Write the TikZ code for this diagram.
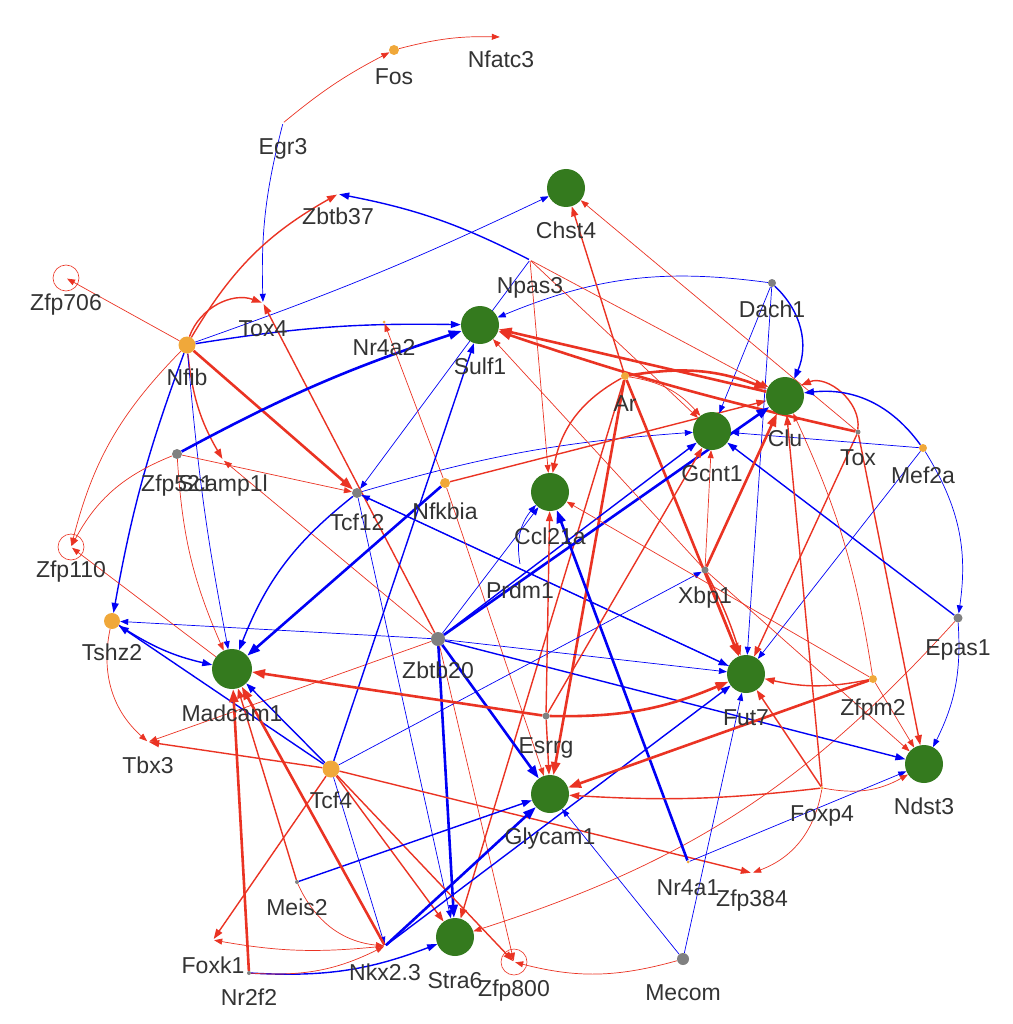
\documentclass[tikz,border=0pt]{standalone}
\usepackage{fontspec}
\setmainfont{Liberation Sans}
\usetikzlibrary{arrows.meta}
\definecolor{redc}{RGB}{234,51,35}
\definecolor{bluec}{RGB}{0,0,245}
\definecolor{greenc}{RGB}{52,122,30}
\definecolor{orangec}{RGB}{240,168,58}
\definecolor{grayc}{RGB}{128,128,128}
\definecolor{txtc}{RGB}{51,51,51}
\pgfdeclarelayer{edges}
\pgfsetlayers{edges,main}
\newcommand{\nd}[6]{\node[#1] (#2) at (#3,#4) {}; \node[lbl] (#2-l) at (#3,{#4+#5}) {#6};}
\begin{document}
\begin{tikzpicture}[x=1pt,y=-1pt,
 gnode/.style={circle,fill=greenc,inner sep=0pt,minimum size=38pt},
 onode/.style={circle,fill=orangec,inner sep=0pt,minimum size=#1},
 ynode/.style={circle,fill=grayc,inner sep=0pt,minimum size=#1},
 hnode/.style={circle,inner sep=0pt,minimum size=2pt},
 lbl/.style={anchor=base,font=\fontsize{23}{27}\selectfont,text=txtc,inner sep=0pt},
 rt/.style={draw=redc,line width=0.7pt,-{Triangle[length=8pt,width=6pt]}},
 rm/.style={draw=redc,line width=1.4pt,-{Triangle[length=10pt,width=7pt]}},
 rk/.style={draw=redc,line width=2.6pt,-{Triangle[length=13pt,width=9pt]}},
 bt/.style={draw=bluec,line width=0.7pt,-{Triangle[length=8pt,width=6pt]}},
 bm/.style={draw=bluec,line width=1.4pt,-{Triangle[length=10pt,width=7pt]}},
 bk/.style={draw=bluec,line width=2.6pt,-{Triangle[length=13pt,width=9pt]}},
 bl/.style={bend left=#1},
 br/.style={bend right=#1},
 loopc/.style={draw=redc,line width=0.6pt}
]
\useasboundingbox (0,0) rectangle (1012,1024);
\nd{onode=10pt}{Fos}{394}{50}{35}{Fos}
\nd{hnode}{Nfatc3}{501}{37}{31}{Nfatc3}
\nd{hnode}{Egr3}{283}{123}{32}{Egr3}
\nd{hnode}{Zbtb37}{338}{194}{31}{Zbtb37}
\nd{hnode}{Zfp706}{66}{278}{32}{Zfp706}
\nd{hnode}{Tox4}{263}{303}{33}{Tox4}
\nd{onode=17pt}{Nfib}{187}{345}{40}{Nfib}
\nd{onode=3pt}{Nr4a2}{384}{322}{33}{Nr4a2}
\nd{gnode}{Sulf1}{480}{325}{49}{Sulf1}
\nd{gnode}{Chst4}{566}{188}{51}{Chst4}
\nd{hnode}{Npas3}{530}{260}{33}{Npas3}
\nd{ynode=8pt}{Dach1}{772}{283}{34}{Dach1}
\nd{onode=8pt}{Ar}{625}{376}{35}{Ar}
\nd{gnode}{Clu}{785}{396}{50}{Clu}
\nd{gnode}{Gcnt1}{712}{431}{50}{Gcnt1}
\nd{ynode=5pt}{Tox}{858}{432}{33}{Tox}
\nd{onode=8pt}{Mef2a}{923}{448}{35}{Mef2a}
\nd{ynode=10pt}{Zfp521}{177}{454}{37}{Zfp521}
\nd{hnode}{Scamp1l}{223}{460}{31}{Scamp1l}
\nd{ynode=10pt}{Tcf12}{357}{493}{37}{Tcf12}
\nd{onode=10pt}{Nfkbia}{445}{483}{36}{Nfkbia}
\nd{gnode}{Ccl21a}{550}{492}{52}{Ccl21a}
\nd{hnode}{Zfp110}{71}{547}{30}{Zfp110}
\nd{ynode=7pt}{Xbp1}{705}{570}{33}{Xbp1}
\nd{hnode}{Prdm1}{520}{565}{33}{Prdm1}
\nd{onode=16pt}{Tshz2}{112}{621}{39}{Tshz2}
\nd{ynode=14pt}{Zbtb20}{438}{639}{39}{Zbtb20}
\nd{ynode=9pt}{Epas1}{958}{618}{37}{Epas1}
\nd{gnode,minimum size=40pt}{Madcam1}{232}{669}{52}{Madcam1}
\nd{gnode}{Fut7}{746}{674}{51}{Fut7}
\nd{onode=8pt}{Zfpm2}{873}{679}{36}{Zfpm2}
\nd{ynode=7pt}{Esrrg}{546}{716}{37}{Esrrg}
\nd{hnode}{Tbx3}{148}{742}{31}{Tbx3}
\nd{onode=17pt}{Tcf4}{331}{769}{39}{Tcf4}
\nd{gnode}{Ndst3}{924}{764}{50}{Ndst3}
\nd{gnode}{Glycam1}{550}{794}{50}{Glycam1}
\nd{onode=3pt}{Foxp4}{822}{788}{33}{Foxp4}
\nd{onode=3pt}{Nr4a1}{688}{862}{33}{Nr4a1}
\nd{hnode}{Zfp384}{752}{873}{33}{Zfp384}
\nd{ynode=4pt}{Meis2}{297}{882}{33}{Meis2}
\nd{gnode}{Stra6}{455}{937}{51}{Stra6}
\nd{hnode}{Foxk1}{213}{940}{33}{Foxk1}
\nd{hnode}{Nkx23}{385}{946}{34}{Nkx2.3}
\nd{hnode}{Zfp800}{514}{962}{34}{Zfp800}
\nd{ynode=12pt}{Mecom}{683}{959}{41}{Mecom}
\nd{ynode=4pt}{Nr2f2}{249}{973}{32}{Nr2f2}
\begin{pgfonlayer}{edges}
\draw[loopc] (Zfp706.center) circle[radius=13pt];
\draw[loopc] (Zfp110.center) circle[radius=13pt];
\draw[loopc] (Zfp800.center) circle[radius=13pt];
% top
\draw[rt] (Fos) to[bl=8] (Nfatc3);
\draw[rt] (Egr3) to[bl=6] (Fos);
\draw[bt] (Egr3) to[br=8] (Tox4);
\draw[rt] (Nfib) -- (Zfp706);
\draw[rm] (Nfib) to[bl=15] (Zbtb37);
\draw[rm] (Nfib) to[bl=45] (Tox4);
\draw[bt] (Nfib) to[br=3] (Chst4);
\draw[bm] (Nfib) to[bl=5] (Sulf1);
\draw[bm] (Npas3) to[br=8] (Zbtb37);
\draw[rm] (Zbtb20) -- (Tox4);
\draw[rk] (Nfib) -- (Tcf12);
\draw[rm] (Nfib) to[br=12] (Scamp1l);
\draw[bm] (Nfib) to[br=5] (Tshz2);
\draw[bt] (Nfib) to[br=3] (Madcam1);
\draw[rt] (Nfib) to[br=15] (Zfp110);
\draw[rt] (Zfp521) to[br=20] (Zfp110);
\draw[rt] (Zfp521) to[br=10] (Madcam1);
\draw[rt] (Zfp521) -- (Tcf12);
\draw[bk] (Zfp521) to[bl=5] (Sulf1);
\draw[rt] (Zbtb20) -- (Scamp1l);
\draw[bt] (Npas3) -- (Tcf12);
\draw[bt] (Tcf12) to[bl=6] (Gcnt1);
\draw[bm] (Tcf12) -- (Fut7);
\draw[bt] (Fut7) -- (Tcf12);
\draw[bm] (Tcf12) to[br=15] (Madcam1);
\draw[bt] (Tcf12) -- (Stra6);
\draw[bk] (Nfkbia) -- (Madcam1);
\draw[rt] (Nfkbia) -- (Nr4a2);
\draw[rt] (Nfkbia) -- (Glycam1);
\draw[rm] (Nfkbia) -- (Clu);
\draw[bt] (Dach1) to[br=15] (Sulf1);
\draw[bm] (Dach1) to[bl=35] (Clu);
\draw[bt] (Dach1) -- (Gcnt1);
\draw[bt] (Dach1) -- (Fut7);
\draw[rt] (Npas3) -- (Clu);
\draw[rt] (Npas3) -- (Gcnt1);
\draw[rt] (Npas3) -- (Ccl21a);
\draw[rm] (Ar) -- (Chst4);
\draw[rk] (Ar) to[bl=15] (Clu);
\draw[rt] (Ar) to[bl=20] (Gcnt1);
\draw[rm] (Ar) to[br=25] (Ccl21a);
\draw[rk] (Ar) -- (Fut7);
\draw[rk] (Ar) -- (Glycam1);
\draw[rm] (Ar) -- (Stra6);
\draw[rk] (Clu) -- (Sulf1);
\draw[rk] (Tox) to[bl=3] (Sulf1);
\draw[rt] (Tox) -- (Chst4);
\draw[rm] (Tox) to[br=60] (Clu);
\draw[rm] (Tox) -- (Ndst3);
\draw[rm] (Tox) -- (Fut7);
\draw[bm] (Mef2a) to[br=30] (Clu);
\draw[bt] (Mef2a) -- (Gcnt1);
\draw[bt] (Mef2a) -- (Fut7);
\draw[bt] (Mef2a) to[bl=20] (Epas1);
\draw[bm] (Epas1) -- (Gcnt1);
\draw[bt] (Epas1) to[bl=15] (Ndst3);
\draw[rt] (Epas1) to[bl=15] (Stra6);
% Zbtb20
\draw[bt] (Zbtb20) -- (Tshz2);
\draw[rt] (Zbtb20) -- (Tbx3);
\draw[bt] (Zbtb20) -- (Ccl21a);
\draw[bm] (Zbtb20) -- (Gcnt1);
\draw[bk] (Zbtb20) -- (Clu);
\draw[bt] (Zbtb20) -- (Fut7);
\draw[bm] (Zbtb20) -- (Ndst3);
\draw[bk] (Zbtb20) -- (Glycam1);
\draw[bk] (Zbtb20) -- (Stra6);
\draw[rt] (Zbtb20) -- (Zfp800);
% Xbp1
\draw[rk] (Xbp1) -- (Clu);
\draw[rt] (Xbp1) -- (Gcnt1);
\draw[rm] (Xbp1) -- (Fut7);
\draw[rm] (Xbp1) to[bl=5] (Fut7);
\draw[rt] (Xbp1) -- (Sulf1);
\draw[rt] (Xbp1) -- (Ndst3);
% Tcf4
\draw[bt] (Tcf4) -- (Xbp1);
\draw[bm] (Tcf4) -- (Madcam1);
\draw[bm] (Tcf4) -- (Tshz2);
\draw[bm] (Tcf4) -- (Sulf1);
\draw[bt] (Tcf4) -- (Nkx23);
\draw[rm] (Tcf4) -- (Tbx3);
\draw[rm] (Tcf4) -- (Foxk1);
\draw[rm] (Tcf4) -- (Stra6);
\draw[rm] (Tcf4) -- (Zfp800);
\draw[rm] (Tcf4) -- (Zfp384);
\draw[rt] (Tshz2) to[br=30] (Tbx3);
\draw[bm] (Tshz2) to[br=10] (Madcam1);
\draw[rt] (Madcam1) -- (Zfp110);
% bottom
\draw[rm] (Meis2) -- (Madcam1);
\draw[bm] (Meis2) -- (Glycam1);
\draw[rt] (Meis2) to[br=30] (Nkx23);
\draw[rk] (Nr2f2) -- (Madcam1);
\draw[bm] (Nr2f2) to[br=12] (Stra6);
\draw[rt] (Nr2f2) to[br=15] (Nkx23);
\draw[rk] (Nkx23) -- (Madcam1);
\draw[bk] (Nkx23) -- (Glycam1);
\draw[bm] (Nkx23) -- (Fut7);
\draw[rt] (Nkx23) to[bl=8] (Foxk1);
\draw[bt] (Mecom) -- (Fut7);
\draw[bt] (Mecom) -- (Glycam1);
\draw[rt] (Mecom) to[bl=15] (Zfp800);
\draw[bk] (Nr4a1) -- (Ccl21a);
\draw[bt] (Nr4a1) -- (Ndst3);
\draw[rm] (Zfpm2) to[bl=12] (Fut7);
\draw[rk] (Zfpm2) -- (Glycam1);
\draw[rt] (Zfpm2) -- (Ndst3);
\draw[rt] (Zfpm2) -- (Ccl21a);
\draw[rt] (Zfpm2) to[br=8] (Clu);
\draw[rm] (Foxp4) -- (Clu);
\draw[rm] (Foxp4) -- (Fut7);
\draw[rm] (Foxp4) to[bl=5] (Glycam1);
\draw[rt] (Foxp4) to[br=20] (Ndst3);
\draw[rt] (Foxp4) to[bl=30] (Zfp384);
\draw[rk] (Esrrg) -- (Madcam1);
\draw[rk] (Esrrg) to[br=12] (Fut7);
\draw[rm] (Esrrg) -- (Ccl21a);
\draw[rm] (Esrrg) -- (Glycam1);
\draw[rm] (Esrrg) -- (Gcnt1);
\draw[bt] (Prdm1) to[bl=25] (Ccl21a);
\end{pgfonlayer}
\end{tikzpicture}
\end{document}
